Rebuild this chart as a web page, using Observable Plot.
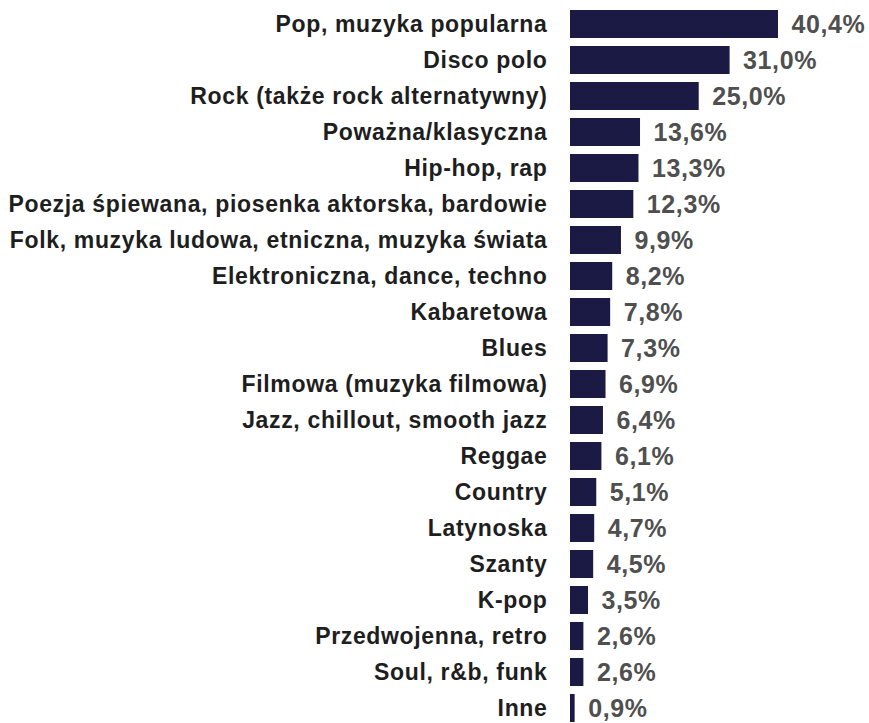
<!DOCTYPE html>
<html>
<head>
<meta charset="utf-8">
<script src="https://cdn.jsdelivr.net/npm/d3@7"></script>
<script src="https://cdn.jsdelivr.net/npm/@observablehq/plot@0.6"></script>
<style>
  html, body { margin: 0; padding: 0; background: #ffffff; overflow: hidden; }
  #chart svg { display: block; }
  #chart g[fill="#1e1e1e"] text { letter-spacing: 0.66px; }
  #chart g[fill="#4f4f4f"] text { letter-spacing: 0.6px; }
</style>
</head>
<body>
<div id="chart"></div>
<script>
const categories = [
  "Pop, muzyka popularna",
  "Disco polo",
  "Rock (także rock alternatywny)",
  "Poważna/klasyczna",
  "Hip-hop, rap",
  "Poezja śpiewana, piosenka aktorska, bardowie",
  "Folk, muzyka ludowa, etniczna, muzyka świata",
  "Elektroniczna, dance, techno",
  "Kabaretowa",
  "Blues",
  "Filmowa (muzyka filmowa)",
  "Jazz, chillout, smooth jazz",
  "Reggae",
  "Country",
  "Latynoska",
  "Szanty",
  "K-pop",
  "Przedwojenna, retro",
  "Soul, r&b, funk",
  "Inne"
];
const values = [40.4, 31.0, 25.0, 13.6, 13.3, 12.3, 9.9, 8.2, 7.8, 7.3, 6.9, 6.4, 6.1, 5.1, 4.7, 4.5, 3.5, 2.6, 2.6, 0.9];

const data = categories.map((c, i) => ({category: c, value: values[i], label: values[i].toFixed(1).replace(".", ",") + "%"}));

const chart = Plot.plot({
  width: 869,
  height: 723,
  marginTop: 0,
  marginBottom: 0,
  marginLeft: 0,
  marginRight: 0,
  style: {fontFamily: "'Liberation Sans', Arial, Helvetica, sans-serif", background: "#ffffff"},
  x: {domain: [0, 40.4], range: [570, 778], axis: null},
  y: {domain: categories, range: [6, 727], paddingInner: 0.22, paddingOuter: 0.11, axis: null},
  marks: [
    Plot.barX(data, {x: "value", y: "category", fill: "#1b1a45"}),
    Plot.text(data, {x: 0, y: "category", text: "category", textAnchor: "end", dx: -23, dy: 0, fontSize: 23, fontWeight: "bold", fill: "#1e1e1e"}),
    Plot.text(data, {x: "value", y: "category", text: "label", textAnchor: "start", dx: 13, dy: 0.5, fontSize: 25, fontWeight: "bold", fill: "#4f4f4f"})
  ]
});
document.getElementById("chart").appendChild(chart);
</script>
</body>
</html>
